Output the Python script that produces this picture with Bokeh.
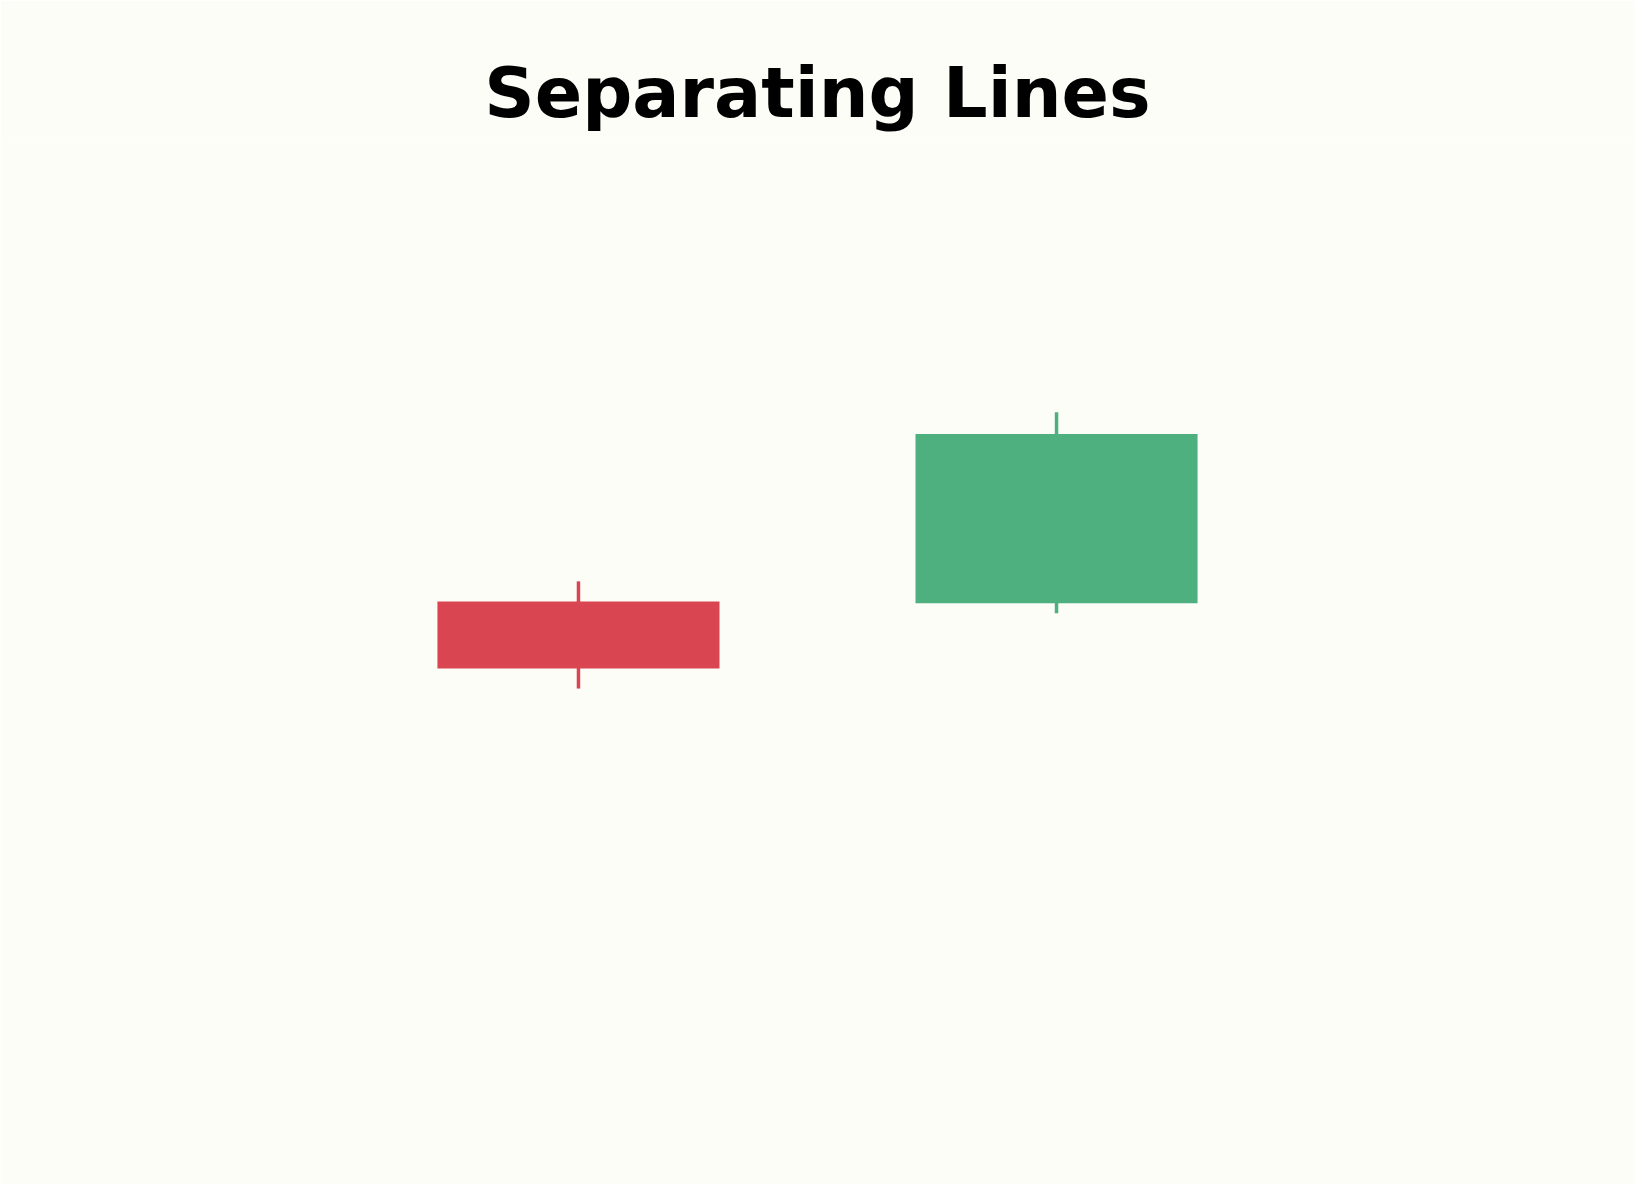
from bokeh.plotting import figure
from bokeh.embed import file_html
from bokeh.resources import INLINE
from bokeh.models import Range1d, ColumnDataSource

# Data (two sessions: bearish candle, then bullish candle opening at the same level)
days = [0, 1]
opens = [100.0, 99.9]
highs = [101.2, 111.3]
lows = [94.8, 99.3]
closes = [96.0, 110.0]
colors = ["#d94551", "#4eb07e"]

BG = "#fdfdf8"

src = ColumnDataSource(dict(
    x=days, o=opens, h=highs, l=lows, c=closes,
    top=[max(a, b) for a, b in zip(opens, closes)],
    bot=[min(a, b) for a, b in zip(opens, closes)],
    color=colors,
))

p = figure(width=1634, height=1184, output_backend="svg", toolbar_location=None,
           x_range=Range1d(-1.209, 2.209), y_range=Range1d(65.19, 127.64),
           min_border=0, min_border_top=138,
           background_fill_color=BG, border_fill_color=BG,
           outline_line_color=None)
p.axis.visible = False
p.grid.visible = False

p.title.text = "Separating Lines"
p.title.align = "center"
p.title.text_font = "DejaVu Sans"
p.title.text_font_style = "bold"
p.title.text_font_size = "70px"
p.title.text_color = "#000000"

p.segment(x0="x", y0="l", x1="x", y1="h", color="color", line_width=3.5, source=src)
p.vbar(x="x", width=0.59, top="top", bottom="bot", fill_color="color",
       line_color=None, source=src)

html = file_html(p, INLINE, title="Separating Lines")
html = html.replace("<body>", '<body style="background:%s">' % BG, 1)
open("out.html", "w").write(html)
